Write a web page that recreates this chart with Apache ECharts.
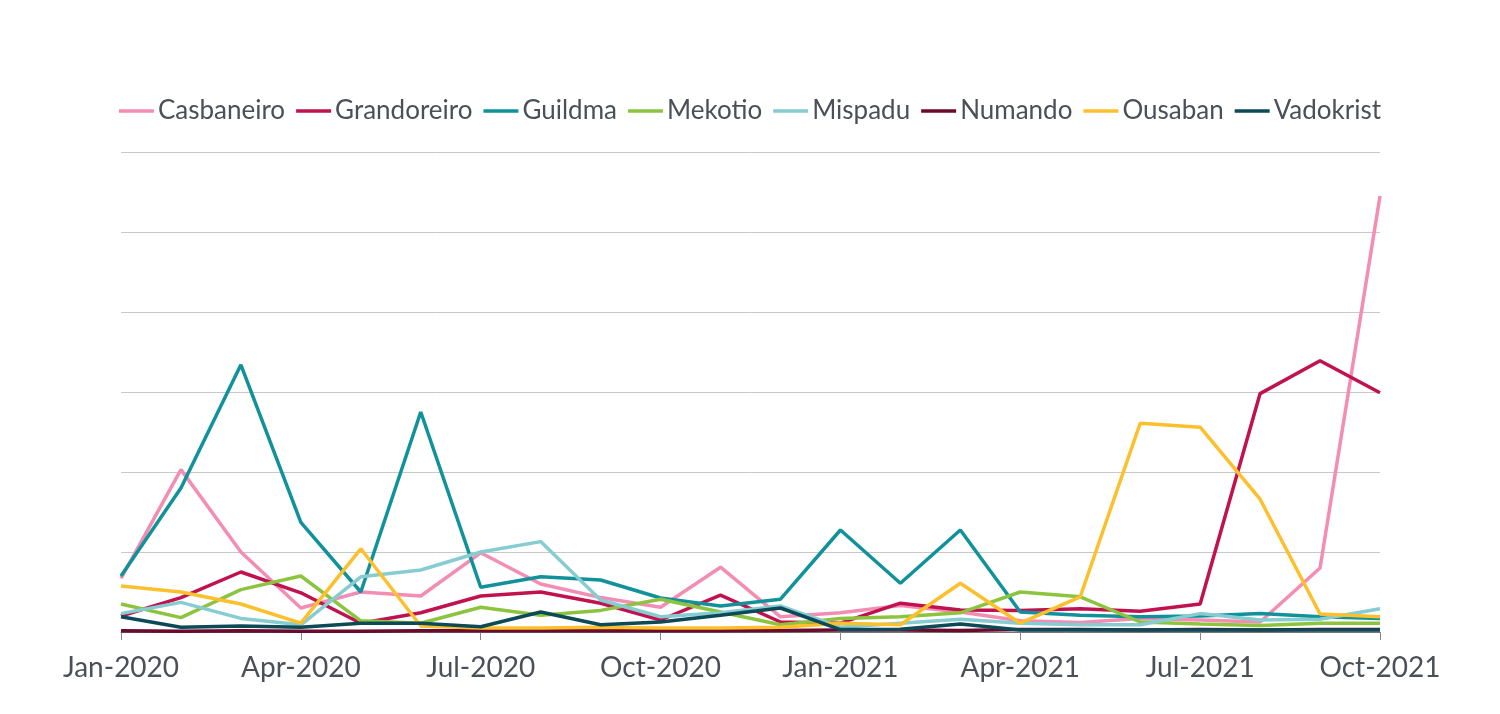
<!DOCTYPE html>
<html>
<head>
<meta charset="utf-8">
<script src="https://cdn.jsdelivr.net/npm/echarts@6/dist/echarts.min.js"></script>
<style>
  html, body { margin: 0; padding: 0; background: #fff; }
  #chart { width: 1500px; height: 714px; }
</style>
</head>
<body>
<div id="chart"></div>
<script>
// months Jan-2020 .. Oct-2021
var months = ['Jan-2020','Feb-2020','Mar-2020','Apr-2020','May-2020','Jun-2020','Jul-2020','Aug-2020','Sep-2020','Oct-2020','Nov-2020','Dec-2020',
              'Jan-2021','Feb-2021','Mar-2021','Apr-2021','May-2021','Jun-2021','Jul-2021','Aug-2021','Sep-2021','Oct-2021'];

var casbaneiro  = [6.7, 20.3, 10, 3, 5, 4.5, 9.9, 6, 4.3, 3.1, 8.1, 1.9, 2.4, 3.3, 2.5, 1.4, 1.2, 1.7, 1.5, 1.25, 8, 54.5];
var grandoreiro = [2, 4.3, 7.5, 4.9, 1.1, 2.4, 4.5, 5, 3.6, 1.5, 4.6, 1.25, 1.1, 3.6, 2.75, 2.7, 2.9, 2.6, 3.5, 29.8, 33.9, 29.9];
var guildma     = [7, 18, 33.4, 13.7, 5, 27.5, 5.6, 6.9, 6.5, 4.25, 3.25, 4.1, 12.75, 6.1, 12.75, 2.5, 2.1, 1.9, 2, 2.3, 1.9, 1.7];
var mekotio     = [3.5, 1.8, 5.3, 7, 1.4, 1.1, 3.1, 2.1, 2.7, 4.1, 2.5, 0.9, 1.7, 1.9, 2.4, 5, 4.4, 1.25, 1, 0.8, 1.1, 1.1];
var mispadu     = [2.3, 3.7, 1.7, 0.9, 6.9, 7.75, 10, 11.3, 4, 1.9, 2.4, 3.25, 0.6, 1.1, 1.6, 1.1, 0.9, 0.9, 2.3, 1.5, 1.6, 2.9];
var numando     = [0.15, 0.1, 0.15, 0.1, 0.1, 0.15, 0.15, 0.15, 0.15, 0.2, 0.15, 0.2, 0.25, 0.25, 0.2, 0.3, 0.3, 0.25, 0.3, 0.25, 0.3, 0.3];
var ousaban     = [5.75, 5, 3.5, 1.1, 10.4, 0.75, 0.5, 0.5, 0.6, 0.5, 0.5, 0.6, 1.1, 0.9, 6.1, 1.1, 4.4, 26.1, 25.6, 16.6, 2.25, 1.9];
var vadokrist   = [1.9, 0.6, 0.75, 0.6, 1.1, 1.1, 0.65, 2.5, 0.9, 1.25, 2.1, 3, 0.3, 0.35, 1, 0.25, 0.25, 0.25, 0.25, 0.25, 0.25, 0.25];

var names  = ['Casbaneiro','Grandoreiro','Guildma','Mekotio','Mispadu','Numando','Ousaban','Vadokrist'];
var values = [casbaneiro, grandoreiro, guildma, mekotio, mispadu, numando, ousaban, vadokrist];
var colors = ['#f38db3','#c0124f','#11929a','#8cc43f','#86ccd1','#6a0a2c','#fcc02c','#0b4a56'];

var myChart = echarts.init(document.getElementById('chart'));

var series = names.map(function (n, i) {
    return {
        name: n,
        type: 'line',
        data: values[i],
        symbol: 'none',
        lineStyle: { width: 3.5, color: colors[i] },
        itemStyle: { color: colors[i] }
    };
});

var option = {
    animation: false,
    color: colors,
    legend: {
        top: 93,
        left: 'center',
        icon: 'path://M0,0 L35,0 L35,3.5 L0,3.5 Z',
        itemWidth: 35,
        itemHeight: 3.5,
        itemGap: 11,
        textStyle: { color: '#4b5058', fontSize: 26, fontFamily: 'Lato', padding: [0, 0, 0, -1] },
        data: names
    },
    grid: { left: 121, right: 120, top: 152, bottom: 82 },
    xAxis: {
        type: 'category',
        boundaryGap: false,
        data: months,
        axisLine: { lineStyle: { color: '#777', width: 1 } },
        axisTick: { interval: 2, length: 8, lineStyle: { color: '#888' } },
        axisLabel: { interval: 2, color: '#4b5058', fontSize: 28, fontFamily: 'Lato', margin: 22 }
    },
    yAxis: {
        type: 'value',
        min: 0,
        max: 60,
        interval: 10,
        axisLabel: { show: false },
        axisLine: { show: false },
        axisTick: { show: false },
        splitLine: { lineStyle: { color: '#c8c8c8', width: 1 } }
    },
    series: series
};

myChart.setOption(option);
</script>
</body>
</html>
